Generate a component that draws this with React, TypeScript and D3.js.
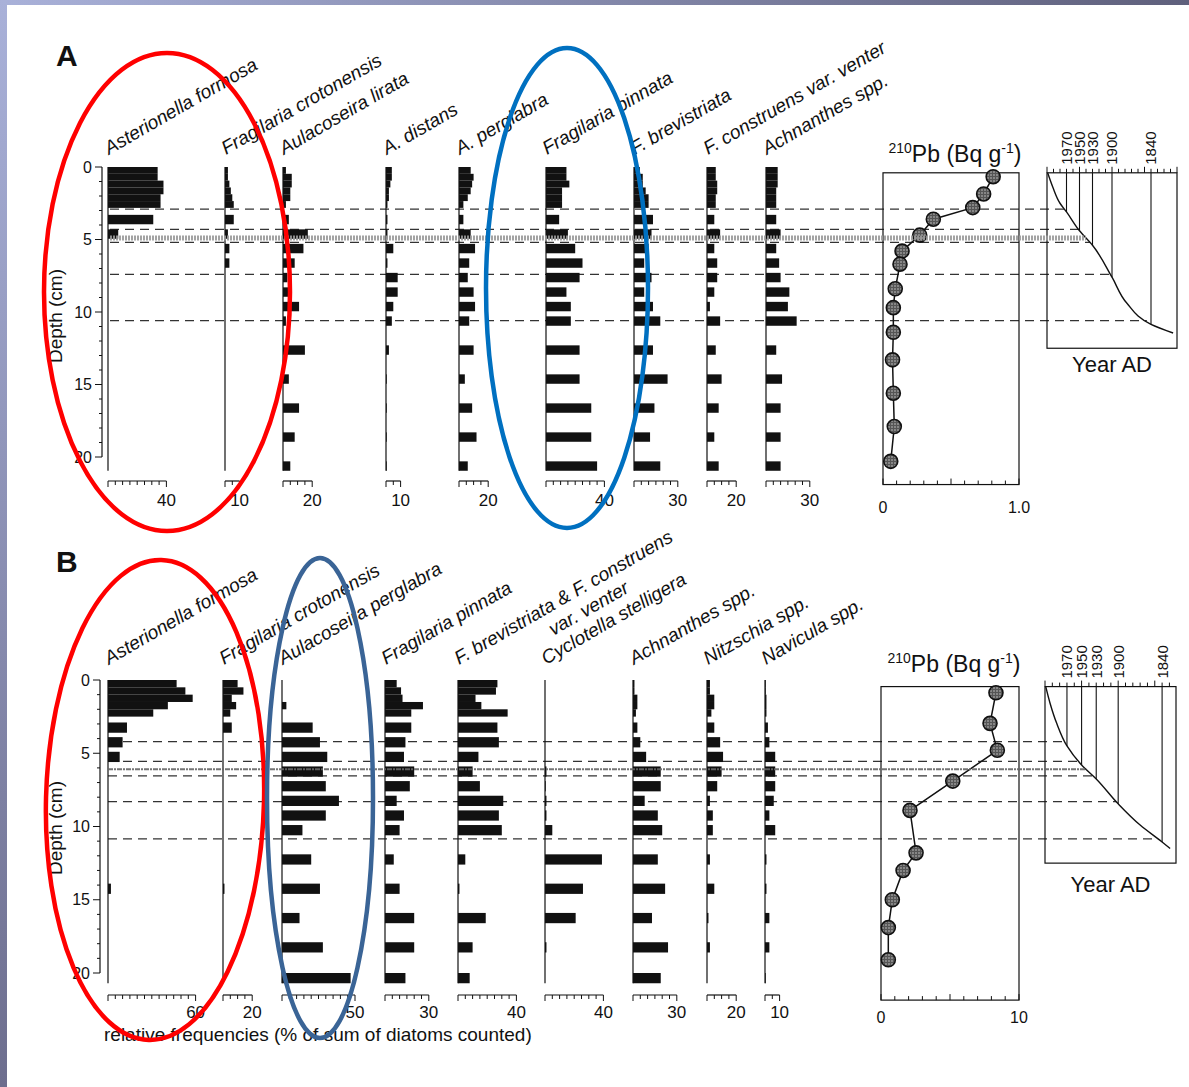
import React from 'react'
import * as d3 from 'd3'

const FONT = "'Liberation Sans', Arial, Helvetica, sans-serif"
const W = 1189
const H = 1087

// ---------- panel A ----------
const taxaA = ['Asterionella formosa', 'Fragilaria crotonensis', 'Aulacoseira lirata', 'A. distans', 'A. perglabra', 'Fragilaria pinnata', 'F. brevistriata', 'F. construens var. venter', 'Achnanthes spp.']
const axisMaxA = [40, 10, 20, 10, 20, 40, 30, 20, 30]
const sampleTopA = [0, 0.47, 0.94, 1.41, 1.88, 2.35, 3.3, 4.3, 5.3, 6.3, 7.3, 8.3, 9.3, 10.3, 12.3, 14.3, 16.3, 18.3, 20.3]
const asterionellaA = [34, 34, 38, 38, 36, 36, 31, 7, 0, 0, 0, 0, 0, 0, 0, 0, 0, 0, 0]
const crotonensisA = [2, 2, 3, 4, 5, 6, 6, 2, 3, 3, 0, 0, 0, 0, 0, 0, 0, 0, 0]
const lirataA = [2, 6, 6, 5, 5, 2, 4, 17, 14, 8, 3, 5, 11, 2, 15, 4, 11, 8, 5]
const distansA = [4, 4, 3, 2, 2, 1, 1, 1, 5, 1, 8, 8, 5, 4, 2, 0.5, 0.5, 0.5, 0.5]
const perglabraA = [8, 10, 9, 8, 6, 3, 3, 8, 11, 7, 6, 10, 11, 7, 10, 4, 9, 12, 6]
const pinnataA = [14, 14, 16, 11, 11, 11, 9, 15, 20, 25, 23, 14, 17, 17, 23, 23, 31, 31, 35]
const brevistriataA = [4, 6, 6, 8, 10, 10, 13, 12, 10, 7, 12, 7, 13, 18, 13, 23, 14, 11, 18]
const construensA = [6, 6, 7, 7, 6, 6, 5, 9, 5, 7, 7, 5, 2, 9, 6, 10, 8, 5, 8]
const achnanthesA = [8, 8, 8, 7, 7, 7, 7, 10, 7, 9, 10, 16, 15, 21, 7, 11, 10, 10, 10]

const pbDepthA = [0.67, 1.86, 2.8, 3.6, 4.7, 5.8, 6.7, 8.4, 9.7, 11.4, 13.3, 15.6, 17.9, 20.3]
const pbA = [0.81, 0.74, 0.66, 0.37, 0.27, 0.14, 0.125, 0.09, 0.076, 0.076, 0.07, 0.076, 0.083, 0.057]
const pbMaxA = 1
const curveYearA = [1999, 1991, 1980, 1970, 1950, 1930, 1900, 1877, 1840, 1806]
const curveDepthA = [0.4, 1.4, 2.5, 3.1, 4.4, 5.4, 7.6, 9.4, 10.85, 11.45]
const dashedA = [2.9, 4.3, 5.2, 7.4, 10.6]
const stippleA = 4.9

// ---------- panel B ----------
const taxaB = ['Asterionella formosa', 'Fragilaria crotonensis', 'Aulacoseira perglabra', 'Fragilaria pinnata', 'F. brevistriata & F. construens|var. venter', 'Cyclotella stelligera', 'Achnanthes spp.', 'Nitzschia spp.', 'Navicula spp.']
const axisMaxB = [60, 20, 50, 30, 40, 40, 30, 20, 10]
const sampleTopB = [0, 0.5, 1, 1.5, 2, 2.9, 3.9, 4.9, 5.9, 6.9, 7.9, 8.9, 9.9, 11.9, 13.9, 15.9, 17.9, 20.0]
const asterionellaB = [47, 53, 58, 41, 31, 13, 10, 8, 0, 0, 0, 0, 0, 0, 2, 0, 0, 0]
const crotonensisB = [10, 14, 6, 9, 5, 6, 0, 0, 0, 0, 0, 0, 0, 0, 1, 0, 0, 0]
const perglabraB = [0, 0, 0, 3, 0, 21, 26, 31, 28, 30, 39, 30, 14, 20, 26, 12, 28, 47]
const pinnataB = [8, 11, 12, 26, 18, 18, 14, 13, 20, 17, 8, 13, 10, 6, 10, 20, 20, 14]
const brevConstB = [27, 26, 12, 16, 34, 27, 28, 14, 10, 15, 31, 28, 30, 5, 1, 19, 10, 8]
const cyclotellaB = [0, 0, 0, 0, 0, 0, 0, 0, 1, 0.5, 1, 1, 5, 39, 26, 21, 1, 0]
const achnanthesB = [1, 1, 3, 3, 2, 3, 5, 9, 19, 19, 8, 17, 20, 17, 22, 13, 24, 19]
const nitzschiaB = [2, 2, 5, 5, 3, 5, 9, 11, 10, 7, 2, 4, 4, 2, 5, 1, 2, 0]
const naviculaB = [0.5, 0.5, 1, 1, 1, 2, 3, 7, 7, 7, 6, 3, 7, 1, 1, 3, 3, 0.5]

const pbDepthB = [0.87, 2.96, 4.8, 6.9, 8.9, 11.8, 13.0, 15.0, 16.9, 19.1]
const pbB = [8.33, 7.9, 8.43, 5.2, 2.1, 2.54, 1.6, 0.82, 0.53, 0.53]
const pbMaxB = 10
const curveYearB = [1999, 1993, 1984, 1970, 1950, 1930, 1900, 1870, 1840, 1829]
const curveDepthB = [0.45, 1.6, 2.96, 4.5, 5.8, 6.75, 8.45, 9.9, 11.06, 11.5]
const dashedB = [4.2, 5.55, 6.55, 8.3, 10.85]
const stippleB = 6.1

const dateLines = [1970, 1950, 1930, 1900, 1840]
const depthTicks = [0, 5, 10, 15, 20]

type PanelData = {
  taxa: string[]; axisMax: number[]; samples: number[]; values: number[][]
  pbDepth: number[]; pb: number[]; pbMax: number
  curveYear: number[]; curveDepth: number[]; dashed: number[]; stipple: number
}

const panelA: PanelData = {
  taxa: taxaA, axisMax: axisMaxA, samples: sampleTopA,
  values: [asterionellaA, crotonensisA, lirataA, distansA, perglabraA, pinnataA, brevistriataA, construensA, achnanthesA],
  pbDepth: pbDepthA, pb: pbA, pbMax: pbMaxA,
  curveYear: curveYearA, curveDepth: curveDepthA, dashed: dashedA, stipple: stippleA,
}
const panelB: PanelData = {
  taxa: taxaB, axisMax: axisMaxB, samples: sampleTopB,
  values: [asterionellaB, crotonensisB, perglabraB, pinnataB, brevConstB, cyclotellaB, achnanthesB, nitzschiaB, naviculaB],
  pbDepth: pbDepthB, pb: pbB, pbMax: pbMaxB,
  curveYear: curveYearB, curveDepth: curveDepthB, dashed: dashedB, stipple: stippleB,
}

const layoutA = {
  letter: 'A', letterY: 66, depthRange: [167, 457], axisX: 102, depthLabelY: 316,
  colX: [108, 225, 283, 386, 459, 546, 634, 707, 766],
  nTop: 6, topThick: 0.47, thick: 0.65, colBottom: 20.95,
  labelY: 155, baseAxisY: 481, baseLabelY: 506,
  pbX: [883, 1019], pbBottom: 21.9, pbLabelY: 513, pbTitleY: 162,
  yearX: [1047, 1177], yearDomain: [2000, 1800], yearBottom: 12.5, yearAdY: 372,
  boxTop: 0.4, lineStartX: 110, stippleW: 5, stippleColor: '#9a9a9a', stippleDash: '2,1',
}
const layoutB = {
  letter: 'B', letterY: 572, depthRange: [680, 973], axisX: 100, depthLabelY: 828,
  colX: [108, 223, 282, 385, 458, 545, 633, 707, 765],
  nTop: 5, topThick: 0.5, thick: 0.7, colBottom: 20.7,
  labelY: 665, baseAxisY: 995, baseLabelY: 1018,
  pbX: [881, 1019], pbBottom: 21.85, pbLabelY: 1023, pbTitleY: 672,
  yearX: [1045, 1176], yearDomain: [2000, 1821], yearBottom: 12.5, yearAdY: 892,
  boxTop: 0.45, lineStartX: 108, stippleW: 2, stippleColor: '#666', stippleDash: '5,1,2,1',
}
type Layout = typeof layoutA

const PX_PER_PCT = 1.46

function Panel({ d, L }: { d: PanelData; L: Layout }) {
  const y = d3.scaleLinear().domain([0, 20]).range(L.depthRange)
  const px = d3.scaleLinear().domain([0, d.pbMax]).range(L.pbX)
  const yx = d3.scaleLinear().domain(L.yearDomain).range(L.yearX)
  const depthToYear = d3.scaleLinear().domain(d.curveDepth).range(d.curveYear).clamp(true)
  const yearToDepth = d3.scaleLinear().domain(d.curveYear).range(d.curveDepth)
  const lineEnd = (dep: number) => yx(depthToYear(dep))

  const pbLine = d3.line<number>().x(v => px(v)).y((v, i) => y(d.pbDepth[i]))
  const ageLine = d3.line<number>().x(v => yx(v)).y((v, i) => y(d.curveDepth[i])).curve(d3.curveMonotoneY)

  const boxTopY = y(L.boxTop)
  const pbTicks = d3.range(0, d.pbMax + 1e-9, d.pbMax / 10)
  const yearTicks = d3.range(1800, 2001, 10).filter(t => t <= L.yearDomain[0] && t >= L.yearDomain[1])
  const fmtPb = (v: number) => (v === 0 ? '0' : d.pbMax < 5 ? v.toFixed(1) : String(v))

  return (
    <g>
      <text x={56} y={L.letterY} fontSize={30} fontWeight="bold">{L.letter}</text>

      {/* depth axis */}
      <line x1={L.axisX} x2={L.axisX} y1={y(0)} y2={y(20)} stroke="#111" strokeWidth={1.2} />
      {d3.range(0, 21, 1).map(t => (
        <line key={t} x1={L.axisX} x2={L.axisX - (t % 5 === 0 ? 7 : 3)} y1={y(t)} y2={y(t)} stroke="#111" strokeWidth={1} />
      ))}
      {depthTicks.map(t => (
        <text key={t} x={L.axisX - 10} y={y(t)} dy="0.35em" textAnchor="end" fontSize={16}>{t}</text>
      ))}
      <text transform={`translate(62,${L.depthLabelY}) rotate(-90)`} textAnchor="middle" fontSize={19}>Depth (cm)</text>

      {/* chronological marker lines */}
      {d.dashed.map((dep, i) => (
        <line key={i} x1={L.lineStartX} x2={lineEnd(dep)} y1={y(dep)} y2={y(dep)} stroke="#333" strokeWidth={1.2} strokeDasharray="9,6" />
      ))}

      {/* diatom columns */}
      {d.taxa.map((name, ci) => {
        const x0 = L.colX[ci]
        const x = d3.scaleLinear().domain([0, 100]).range([x0, x0 + 100 * PX_PER_PCT])
        const [line1, line2] = name.split('|')
        const max = d.axisMax[ci]
        return (
          <g key={name}>
            <line x1={x0} x2={x0} y1={y(0)} y2={y(L.colBottom)} stroke="#111" strokeWidth={1.2} />
            {d.values[ci].map((v, si) => {
              if (v <= 0) return null
              const top = d.samples[si]
              const th = si < L.nTop ? L.topThick : L.thick
              return <rect key={si} x={x0} y={y(top)} width={x(v) - x0} height={y(top + th) - y(top)} fill="#111" />
            })}
            <line x1={x0} x2={x(max)} y1={L.baseAxisY} y2={L.baseAxisY} stroke="#111" strokeWidth={1.2} />
            {d3.range(0, max + 0.01, 5).map(t => (
              <line key={t} x1={x(t)} x2={x(t)} y1={L.baseAxisY} y2={L.baseAxisY + (t === 0 || t === max ? 6 : 4)} stroke="#111" strokeWidth={1} />
            ))}
            <text x={x(max)} y={L.baseLabelY} textAnchor="middle" fontSize={17}>{max}</text>
            <g transform={`translate(${x0 + 1},${L.labelY}) rotate(-30)`} fontStyle="italic" fontSize={19}>
              <text>{line1}</text>
              {line2 && <text x={96} y={22}>{line2}</text>}
            </g>
          </g>
        )
      })}

      {/* 210Pb profile */}
      <rect x={L.pbX[0]} y={boxTopY} width={L.pbX[1] - L.pbX[0]} height={y(L.pbBottom) - boxTopY} fill="none" stroke="#111" strokeWidth={1.2} />
      {pbTicks.map((t, i) => (
        <line key={i} x1={px(t)} x2={px(t)} y1={y(L.pbBottom)} y2={y(L.pbBottom) - (i % 5 === 0 ? 6 : 4)} stroke="#111" strokeWidth={1} />
      ))}
      {[0, d.pbMax].map(t => (
        <text key={t} x={px(t)} y={L.pbLabelY} textAnchor="middle" fontSize={16}>{fmtPb(t)}</text>
      ))}
      <text x={(L.pbX[0] + L.pbX[1]) / 2 + 4} y={L.pbTitleY} textAnchor="middle" fontSize={23}>
        <tspan fontSize={14} dy={-9}>210</tspan>
        <tspan dy={9}>Pb (Bq g</tspan>
        <tspan fontSize={14} dy={-9}>-1</tspan>
        <tspan dy={9}>)</tspan>
      </text>
      <path d={pbLine(d.pb) || ''} fill="none" stroke="#111" strokeWidth={1.5} />
      {d.pb.map((v, i) => (
        <circle key={i} cx={px(v)} cy={y(d.pbDepth[i])} r={7} fill="url(#stip)" stroke="#111" strokeWidth={1.6} />
      ))}

      {/* age-depth model */}
      <rect x={L.yearX[0]} y={boxTopY} width={L.yearX[1] - L.yearX[0]} height={y(L.yearBottom) - boxTopY} fill="none" stroke="#111" strokeWidth={1.2} />
      {yearTicks.map(t => (
        <line key={t} x1={yx(t)} x2={yx(t)} y1={boxTopY} y2={boxTopY - (t % 50 === 0 ? 6 : 4)} stroke="#111" strokeWidth={1} />
      ))}
      {dateLines.map(yr => (
        <g key={yr}>
          <line x1={yx(yr)} x2={yx(yr)} y1={boxTopY} y2={y(yearToDepth(yr))} stroke="#111" strokeWidth={1.1} />
          <text transform={`translate(${yx(yr)},${boxTopY - 8}) rotate(-90)`} dy="0.36em" fontSize={15}>{yr}</text>
        </g>
      ))}
      <path d={ageLine(d.curveYear) || ''} fill="none" stroke="#111" strokeWidth={1.4} />
      <text x={(L.yearX[0] + L.yearX[1]) / 2} y={L.yearAdY} textAnchor="middle" fontSize={22}>Year AD</text>

      {/* stippled marker line */}
      <line x1={L.lineStartX} x2={lineEnd(d.stipple)} y1={y(d.stipple)} y2={y(d.stipple)} stroke={L.stippleColor} strokeWidth={L.stippleW} strokeDasharray={L.stippleDash} opacity={0.9} />
    </g>
  )
}

export default function App() {
  return (
    <svg width={W} height={H} style={{ position: 'absolute', left: 0, top: 0, background: '#fff' }} fontFamily={FONT} fill="#111">
      <defs>
        <linearGradient id="topGrad" x1="0" x2="1" y1="0" y2="0">
          <stop offset="0" stopColor="#a9b1d9" />
          <stop offset="1" stopColor="#5f607c" />
        </linearGradient>
        <linearGradient id="leftGrad" x1="0" x2="0" y1="0" y2="1">
          <stop offset="0" stopColor="#a9b1d9" />
          <stop offset="1" stopColor="#6d6e8e" />
        </linearGradient>
        <pattern id="stip" width={3} height={3} patternUnits="userSpaceOnUse">
          <rect width={3} height={3} fill="#555" />
          <circle cx={1} cy={1} r={0.7} fill="#ddd" />
        </pattern>
      </defs>
      <rect width={W} height={H} fill="#fff" />
      <rect x={0} y={0} width={W} height={5} fill="url(#topGrad)" />
      <rect x={0} y={0} width={7} height={H} fill="url(#leftGrad)" />

      <Panel d={panelA} L={layoutA} />
      <Panel d={panelB} L={layoutB} />

      <text x={104} y={1041} fontSize={19}>relative frequencies (% of sum of diatoms counted)</text>

      {/* highlight ellipses */}
      <g fill="none" strokeWidth={4.5}>
        <ellipse cx={167} cy={292} rx={123} ry={239} stroke="#ff0000" />
        <ellipse cx={567} cy={288} rx={81} ry={240} stroke="#0070c0" />
        <ellipse cx={155} cy={800} rx={109} ry={240} stroke="#ff0000" transform="rotate(1.5,155,800)" />
        <ellipse cx={320} cy={798} rx={53} ry={240} stroke="#3a6496" />
      </g>
    </svg>
  )
}
